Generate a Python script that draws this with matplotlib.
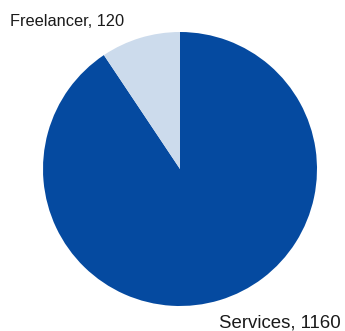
import matplotlib
matplotlib.use("Agg")
import matplotlib.pyplot as plt

plt.rcParams['font.family'] = ['Liberation Sans', 'DejaVu Sans']

# segment data
segments = ["Services", "Freelancer"]
counts = [1160, 120]
colors = ["#054AA0", "#CCDBEC"]

W, H = 345, 331
fig = plt.figure(figsize=(W / 100, H / 100), dpi=100)

# pie centred at (180, 169) px with radius 137 px
cx, cy, r = 180, 169, 137
ax = fig.add_axes([(cx - r) / W, (H - cy - r) / H, 2 * r / W, 2 * r / H])
ax.pie(counts, colors=colors, startangle=90, counterclock=False,
       radius=1, wedgeprops=dict(linewidth=0))
ax.set_xlim(-1, 1)
ax.set_ylim(-1, 1)
ax.axis("off")

labels = [f"{s}, {c}" for s, c in zip(segments, counts)]
fig.text(219 / W, 1 - 327 / H, labels[0], fontsize=13.4, color="#1a1a1a",
         ha="left", va="baseline")
fig.text(10 / W, 1 - 26 / H, labels[1], fontsize=11.8, color="#1a1a1a",
         ha="left", va="baseline")

fig.savefig("out.png", dpi=100)
